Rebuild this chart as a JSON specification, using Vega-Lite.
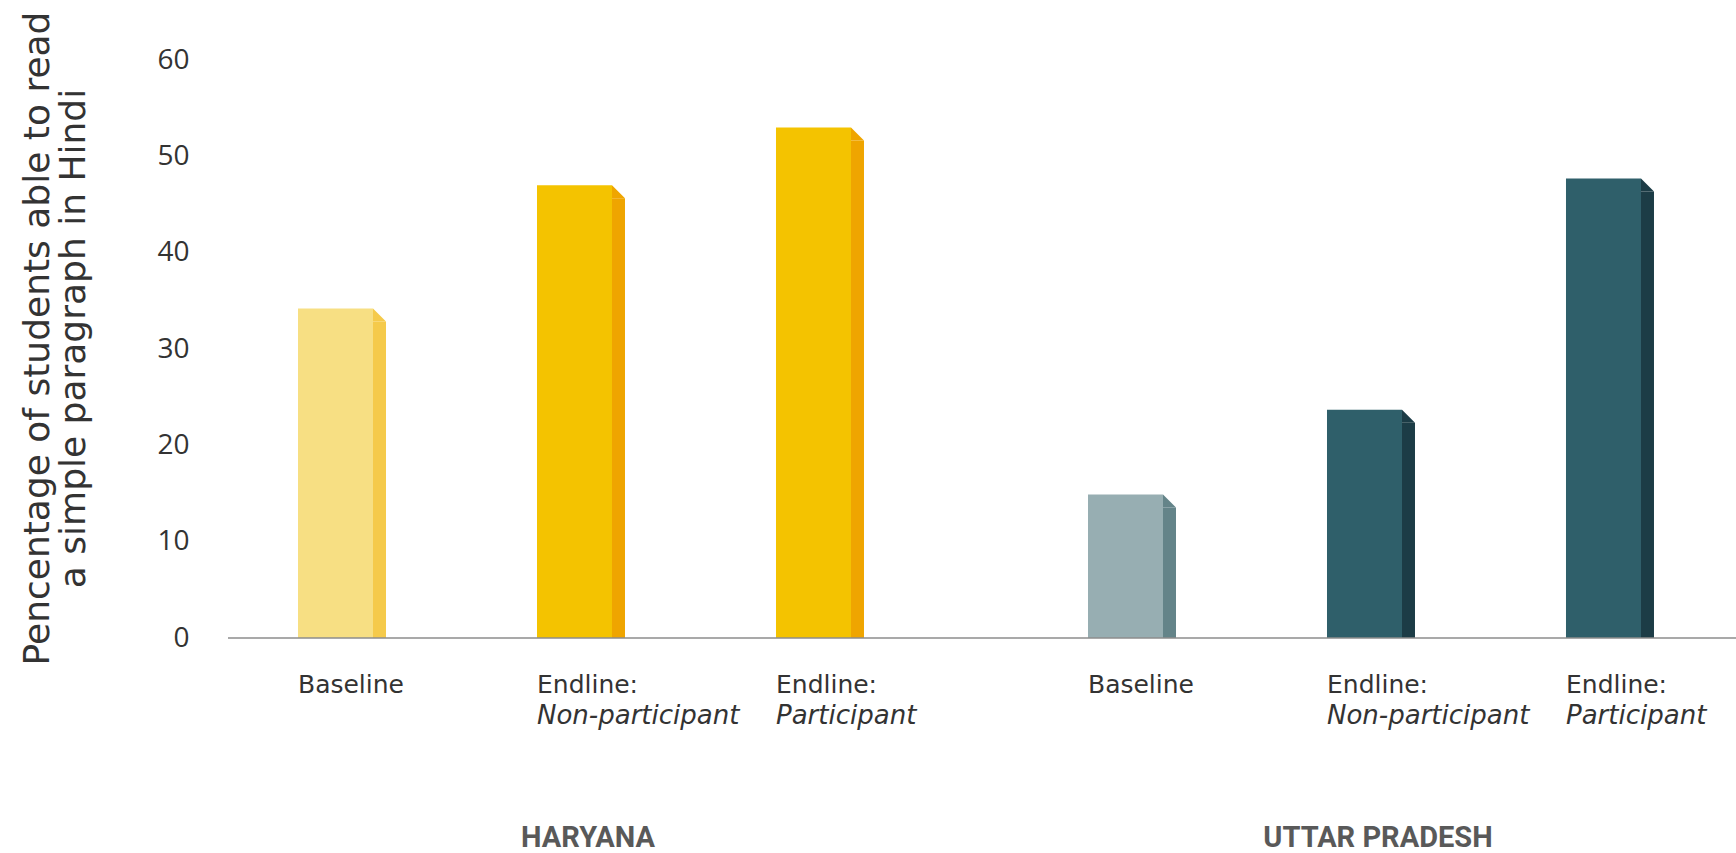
{
  "$schema": "https://vega.github.io/schema/vega-lite/v6.json",
  "padding": {"left": 19, "top": 11, "right": 0, "bottom": 0},
  "background": "white",
  "bounds": "flush",
  "data": {"values": [
    {"state": "HARYANA", "phase": "Baseline", "category": "Baseline", "line1": "Baseline", "line2": "", "value": 34.2},
    {"state": "HARYANA", "phase": "Endline", "category": "Endline: Non-participant", "line1": "Endline:", "line2": "Non-participant", "value": 47.0},
    {"state": "HARYANA", "phase": "Endline", "category": "Endline: Participant", "line1": "Endline:", "line2": "Participant", "value": 53.0},
    {"state": "UTTAR PRADESH", "phase": "Baseline", "category": "Baseline", "line1": "Baseline", "line2": "", "value": 14.9},
    {"state": "UTTAR PRADESH", "phase": "Endline", "category": "Endline: Non-participant", "line1": "Endline:", "line2": "Non-participant", "value": 23.7},
    {"state": "UTTAR PRADESH", "phase": "Endline", "category": "Endline: Participant", "line1": "Endline:", "line2": "Participant", "value": 47.7}
  ]},
  "transform": [{"calculate": "datum.state + ' ' + datum.phase", "as": "key"}],
  "facet": {
    "column": {
      "field": "state", "type": "nominal", "title": null,
      "header": {"labelOrient": "bottom", "labelFontSize": 29, "labelFont": "Roboto", "labelFontWeight": "bold", "labelColor": "#595959", "labelPadding": 186}
    }
  },
  "spacing": 70,
  "spec": {
    "width": 720,
    "height": 578,
    "layer": [
      {
        "mark": {"type": "bar", "width": 75, "xOffset": -6.5},
        "encoding": {
          "x": {"field": "category", "type": "nominal", "sort": null,
                "scale": {"paddingInner": 0.6318, "paddingOuter": 0.3222, "align": 0.4545},
                "axis": null},
          "y": {"field": "value", "type": "quantitative", "scale": {"domain": [0, 60], "nice": false},
                "axis": {"values": [0, 10, 20, 30, 40, 50, 60], "grid": false, "domain": false, "ticks": false,
                         "labelFont": "Open Sans", "labelFontSize": 28, "labelColor": "#333333", "labelPadding": 39,
                         "title": ["Pencentage of students able to read", "a simple paragraph in Hindi"],
                         "titleFont": "DejaVu Sans", "titleFontSize": 36, "titleFontWeight": "normal", "titleColor": "#333333",
                         "titleLineHeight": 36, "titlePadding": 64, "titleY": 278}},
          "color": {"field": "key", "type": "nominal", "legend": null,
                    "scale": {"domain": ["HARYANA Baseline", "HARYANA Endline", "UTTAR PRADESH Baseline", "UTTAR PRADESH Endline"],
                              "range": ["#F7DF83", "#F4C300", "#97AEB2", "#2F5F6A"]}}
        }
      },
      {
        "mark": {"type": "bar", "width": 13, "xOffset": 37.5, "yOffset": 13},
        "encoding": {
          "x": {"field": "category", "type": "nominal", "sort": null},
          "y": {"field": "value", "type": "quantitative"},
          "y2": {"datum": 0},
          "fill": {"field": "key", "type": "nominal", "legend": null,
                   "scale": {"domain": ["HARYANA Baseline", "HARYANA Endline", "UTTAR PRADESH Baseline", "UTTAR PRADESH Endline"],
                             "range": ["#F5CA4B", "#EFA500", "#648489", "#1C3C46"]}}
        }
      },
      {
        "mark": {"type": "point", "shape": "M-1,-1L1,1L-1,1Z", "size": 169, "filled": true, "opacity": 1, "strokeWidth": 0, "xOffset": 37.5, "yOffset": 6.5},
        "encoding": {
          "x": {"field": "category", "type": "nominal", "sort": null},
          "y": {"field": "value", "type": "quantitative"},
          "fill": {"field": "key", "type": "nominal", "legend": null}
        }
      },
      {
        "mark": {"type": "text", "align": "left", "baseline": "alphabetic", "dy": 55, "font": "DejaVu Sans", "fontSize": 25, "color": "#333333"},
        "encoding": {
          "x": {"field": "category", "type": "nominal", "sort": null, "bandPosition": 0},
          "y": {"datum": 0},
          "text": {"field": "line1"}
        }
      },
      {
        "mark": {"type": "text", "align": "left", "baseline": "alphabetic", "dy": 86, "font": "DejaVu Sans", "fontStyle": "italic", "fontSize": 26, "color": "#333333"},
        "encoding": {
          "x": {"field": "category", "type": "nominal", "sort": null, "bandPosition": 0},
          "y": {"datum": 0},
          "text": {"field": "line2"}
        }
      },
      {
        "transform": [{"filter": "datum.state == 'HARYANA'"}, {"aggregate": [{"op": "count", "as": "n"}], "groupby": ["state"]}],
        "mark": {"type": "rule", "color": "#8c8c8c", "strokeWidth": 1.5, "xOffset": -70, "x2Offset": 154},
        "encoding": {
          "x": {"datum": "Baseline", "type": "nominal", "bandPosition": 0},
          "x2": {"datum": "Endline: Participant", "bandPosition": 1},
          "y": {"datum": 0}
        }
      },
      {
        "transform": [{"filter": "datum.state == 'UTTAR PRADESH'"}, {"aggregate": [{"op": "count", "as": "n"}], "groupby": ["state"]}],
        "mark": {"type": "rule", "color": "#8c8c8c", "strokeWidth": 1.5, "xOffset": -70, "x2Offset": 84},
        "encoding": {
          "x": {"datum": "Baseline", "type": "nominal", "bandPosition": 0},
          "x2": {"datum": "Endline: Participant", "bandPosition": 1},
          "y": {"datum": 0}
        }
      }
    ]
  },
  "config": {"view": {"stroke": null}}
}
